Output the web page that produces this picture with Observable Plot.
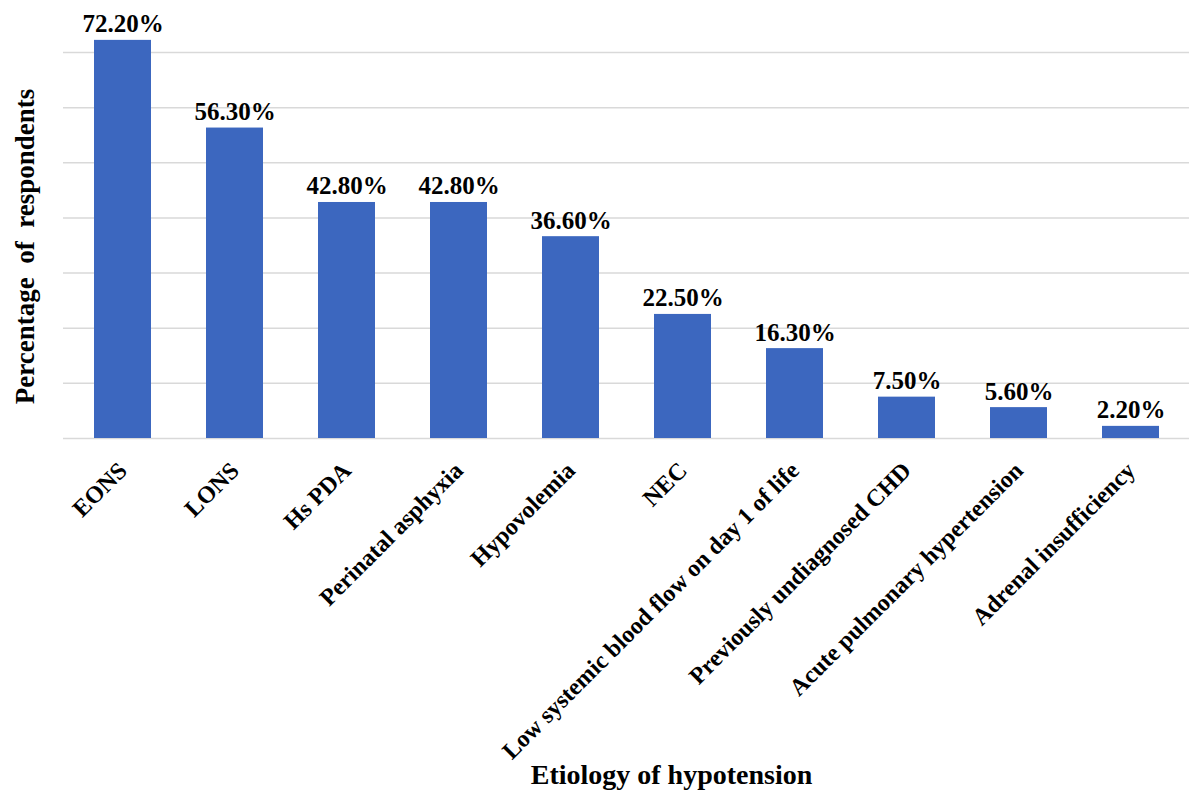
<!DOCTYPE html>
<html>
<head>
<meta charset="utf-8">
<script src="https://cdn.jsdelivr.net/npm/d3@7"></script>
<script src="https://cdn.jsdelivr.net/npm/@observablehq/plot@0.6"></script>
<style>
  html, body { margin: 0; padding: 0; background: #fff; }
</style>
</head>
<body>
<div id="chart"></div>
<script>
const categories = [
  "EONS", "LONS", "Hs PDA", "Perinatal asphyxia", "Hypovolemia", "NEC",
  "Low systemic blood flow on day 1 of life", "Previously undiagnosed CHD",
  "Acute pulmonary hypertension", "Adrenal insufficiency"
];
const values = [72.2, 56.3, 42.8, 42.8, 36.6, 22.5, 16.3, 7.5, 5.6, 2.2];
const gridTicks = [0, 10, 20, 30, 40, 50, 60, 70];
const xTitle = "Etiology of hypotension";
const yTitle = "Percentage\u00a0 of\u00a0 respondents";

const data = categories.map((c, i) => ({category: c, value: values[i]}));
const serif = "'Liberation Serif', 'Times New Roman', serif";

const chart = Plot.plot({
  width: 1189,
  height: 791,
  marginLeft: 63,
  marginRight: 0,
  marginTop: 52,
  marginBottom: 353,
  style: {fontFamily: serif, background: "#fff", overflow: "visible"},
  x: {domain: categories, range: [63, 1190.8], paddingInner: 0.49, paddingOuter: 0.245, axis: null},
  y: {domain: [0, 70], range: [438, 52], axis: null},
  marks: [
    Plot.ruleY(gridTicks, {stroke: "#d9d9d9", strokeWidth: 1.5}),
    Plot.barY(data, {x: "category", y: "value", fill: "#3c67bf"}),
    Plot.text(data, {
      x: "category", y: "value",
      text: d => d.value.toFixed(2) + "%",
      dy: -8, lineAnchor: "bottom",
      fontSize: 25, fontWeight: "bold", fontFamily: serif, fill: "#000"
    }),
    Plot.text(categories, {
      x: d => d, y: () => 0,
      text: d => d,
      rotate: -45, textAnchor: "end", lineAnchor: "middle",
      dx: 0, dy: 28,
      fontSize: 24, fontWeight: "bold", fontFamily: serif, fill: "#000"
    }),
    Plot.text([xTitle], {
      frameAnchor: "bottom", text: d => d,
      dx: 45, dy: 345, lineAnchor: "bottom", textAnchor: "middle",
      fontSize: 28, fontWeight: "bold", fontFamily: serif, fill: "#000"
    }),
    Plot.text([yTitle], {
      frameAnchor: "left", text: d => d,
      rotate: -90, dx: -30, dy: 1, lineAnchor: "bottom", textAnchor: "middle",
      fontSize: 27, fontWeight: "bold", fontFamily: serif, fill: "#000"
    })
  ]
});
document.getElementById("chart").appendChild(chart);
</script>
</body>
</html>
